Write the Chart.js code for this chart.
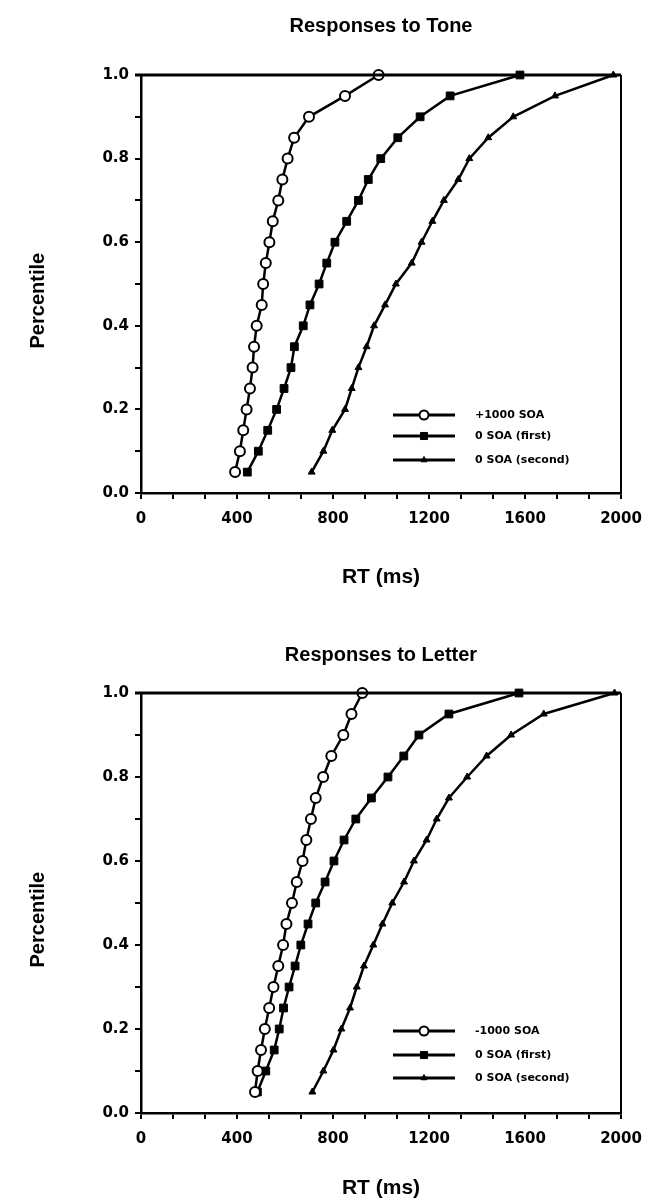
<!DOCTYPE html>
<html>
<head>
<meta charset="utf-8">
<script src="https://cdn.jsdelivr.net/npm/chart.js@4.4.1/dist/chart.umd.min.js"></script>
<style>
    html, body { margin: 0; padding: 0; background: #ffffff; }
    .panel { position: relative; width: 648px; }
    #tonePanel { height: 600px; }
    #letterPanel { height: 603px; }
</style>
</head>
<body>
<div class="panel" id="tonePanel"><canvas id="toneChart"></canvas></div>
<div class="panel" id="letterPanel"><canvas id="letterChart"></canvas></div>
<script>
// Percentile levels, shared by every curve (y values)
const percentiles = [0.05, 0.10, 0.15, 0.20, 0.25, 0.30, 0.35, 0.40, 0.45, 0.50,
                     0.55, 0.60, 0.65, 0.70, 0.75, 0.80, 0.85, 0.90, 0.95, 1.00];

// Responses to Tone - RT (ms) at each percentile
const toneLabels = ['+1000 SOA', '0 SOA (first)', '0 SOA (second)'];
const tonePlus1000 = [392, 412, 426, 440, 454, 465, 471, 482, 503, 509,
                      520, 535, 549, 572, 589, 611, 638, 700, 850, 990];
const toneFirst = [443, 489, 528, 565, 596, 625, 639, 676, 704, 742,
                   774, 808, 857, 906, 947, 999, 1070, 1163, 1288, 1579];
const toneSecond = [711, 760, 797, 850, 878, 906, 940, 971, 1017, 1062,
                    1128, 1169, 1214, 1262, 1322, 1368, 1447, 1551, 1725, 1968];

// Responses to Letter - RT (ms) at each percentile
const letterLabels = ['-1000 SOA', '0 SOA (first)', '0 SOA (second)'];
const letterMinus1000 = [475, 486, 500, 516, 534, 552, 572, 592, 606, 629,
                         649, 673, 689, 708, 728, 759, 793, 843, 877, 922];
const letterFirst = [485, 520, 555, 576, 594, 617, 642, 666, 696, 728,
                     767, 804, 846, 895, 960, 1029, 1095, 1158, 1283, 1575];
const letterSecond = [714, 760, 802, 835, 871, 899, 929, 968, 1006, 1047,
                      1096, 1137, 1190, 1232, 1283, 1359, 1440, 1542, 1678, 1973];

// Labelled ticks
const xTickLabels = [0, 400, 800, 1200, 1600, 2000];
const yTickLabels = [0.0, 0.2, 0.4, 0.6, 0.8, 1.0];

const FONT = "'Liberation Sans', Arial, sans-serif";
const TICK_FONT = "'DejaVu Sans', sans-serif";

// marker styles for the three curves
const markers = [
    { pointStyle: 'circle', pointRadius: 5, pointBackgroundColor: '#ffffff', pointBorderWidth: 2 },
    { pointStyle: 'rect', pointRadius: 5.5, pointBackgroundColor: '#000000', pointBorderWidth: 1 },
    { pointStyle: 'triangle', pointRadius: 4, pointBackgroundColor: '#000000', pointBorderWidth: 1 }
];

function isNear(v, list) {
    return list.some(t => Math.abs(t - v) < 1e-6);
}

function makeDatasets(labels, seriesList) {
    return seriesList.map((series, i) => Object.assign({
        label: labels[i],
        data: series.map((rt, j) => ({ x: rt, y: percentiles[j] })),
        borderColor: '#000000',
        borderWidth: 2.5,
        pointBorderColor: '#000000',
        pointHoverRadius: 5,
        tension: 0,
        clip: 10
    }, markers[i]));
}

// legend drawn inside the plot, lower right
const insideLegend = {
    id: 'insideLegend',
    afterDatasetsDraw(chart, args, opts) {
        const { ctx, chartArea } = chart;
        ctx.save();
        chart.data.datasets.forEach((ds, i) => {
            const y = chartArea.bottom - opts.rows[i];
            const x0 = chartArea.left + opts.lineStart;
            const x1 = chartArea.left + opts.lineEnd;
            ctx.strokeStyle = '#000000';
            ctx.lineWidth = 3;
            ctx.beginPath();
            ctx.moveTo(x0, y);
            ctx.lineTo(x1, y);
            ctx.stroke();
            ctx.fillStyle = ds.pointBackgroundColor;
            ctx.strokeStyle = '#000000';
            ctx.lineWidth = ds.pointBorderWidth;
            Chart.helpers.drawPoint(ctx, {
                pointStyle: ds.pointStyle,
                radius: ds.pointRadius - 0.5,
                rotation: 0,
                borderWidth: ds.pointBorderWidth
            }, (x0 + x1) / 2, y);
            ctx.fillStyle = '#000000';
            ctx.font = opts.font;
            ctx.textAlign = 'left';
            ctx.textBaseline = 'middle';
            ctx.fillText(ds.label, chartArea.left + opts.textStart, y);
        });
        ctx.restore();
    }
};

// top and right edges of the box
const plotFrame = {
    id: 'plotFrame',
    afterDraw(chart) {
        const { ctx, chartArea } = chart;
        ctx.save();
        ctx.strokeStyle = '#000000';
        ctx.lineWidth = 3;
        ctx.beginPath();
        ctx.moveTo(chartArea.left - 6, chartArea.top);
        ctx.lineTo(chartArea.right, chartArea.top);
        ctx.stroke();
        ctx.lineWidth = 2;
        ctx.beginPath();
        ctx.moveTo(chartArea.right, chartArea.top);
        ctx.lineTo(chartArea.right, chartArea.bottom);
        ctx.stroke();
        ctx.restore();
    }
};

function makeChart(canvasId, titleText, datasets, cfg) {
    return new Chart(document.getElementById(canvasId), {
        type: 'line',
        data: { datasets: datasets },
        plugins: [plotFrame, insideLegend],
        options: {
            responsive: true,
            maintainAspectRatio: false,
            animation: false,
            devicePixelRatio: 1,
            layout: { padding: { left: 0, right: 27, top: 0, bottom: 0 } },
            plugins: {
                legend: { display: false },
                tooltip: { enabled: false },
                title: {
                    display: true,
                    text: titleText,
                    fullSize: false,
                    color: '#000000',
                    font: { family: FONT, size: 20, weight: 'bold' },
                    padding: { top: cfg.titleTop, bottom: cfg.titleBottom }
                },
                insideLegend: {
                    rows: cfg.legendRows,
                    lineStart: 252,
                    lineEnd: 314,
                    textStart: 334,
                    font: "bold 11px " + TICK_FONT
                }
            },
            scales: {
                x: {
                    type: 'linear',
                    position: 'bottom',
                    min: 0,
                    max: 2000,
                    afterFit: (scale) => {
                        scale.height = cfg.xAxisHeight;
                        scale.paddingLeft = 0;
                        scale.paddingRight = 0;
                    },
                    afterBuildTicks: (scale) => {
                        const t = [];
                        for (let i = 0; i <= 15; i++) t.push({ value: i * 400 / 3 });
                        scale.ticks = t;
                    },
                    ticks: {
                        autoSkip: false,
                        maxRotation: 0,
                        padding: 11,
                        color: '#000000',
                        font: { family: TICK_FONT, size: 15, weight: 'bold' },
                        callback: (v) => isNear(v, xTickLabels) ? String(Math.round(v)) : ''
                    },
                    grid: {
                        drawOnChartArea: false,
                        drawTicks: true,
                        tickLength: 6,
                        color: '#000000',
                        lineWidth: 2
                    },
                    border: { display: true, color: '#000000', width: 2.5 },
                    title: {
                        display: true,
                        text: 'RT (ms)',
                        color: '#000000',
                        font: { family: FONT, size: 21, weight: 'bold' },
                        padding: { top: 0, bottom: cfg.xTitleBottom }
                    }
                },
                y: {
                    type: 'linear',
                    min: 0,
                    max: 1,
                    afterFit: (scale) => {
                        scale.width = 141;
                        scale.paddingTop = 0;
                        scale.paddingBottom = 0;
                    },
                    afterBuildTicks: (scale) => {
                        const t = [];
                        for (let i = 0; i <= 10; i++) t.push({ value: i / 10 });
                        scale.ticks = t;
                    },
                    ticks: {
                        autoSkip: false,
                        padding: 6,
                        color: '#000000',
                        font: { family: TICK_FONT, size: 15, weight: 'bold' },
                        callback: (v) => isNear(v, yTickLabels) ? v.toFixed(1) : ''
                    },
                    grid: {
                        drawOnChartArea: false,
                        drawTicks: true,
                        tickLength: 6,
                        color: '#000000',
                        lineWidth: 2
                    },
                    border: { display: true, color: '#000000', width: 2.5 },
                    title: {
                        display: true,
                        // trailing spaces push the centred label a little lower, as in the original
                        text: 'Percentile      ',
                        color: '#000000',
                        font: { family: FONT, size: 20, weight: 'bold' },
                        padding: { top: 26, bottom: 0 }
                    }
                }
            }
        }
    });
}

makeChart('toneChart', 'Responses to Tone',
    makeDatasets(toneLabels, [tonePlus1000, toneFirst, toneSecond]),
    { titleTop: 14, titleBottom: 37, xAxisHeight: 107, xTitleBottom: 10, legendRows: [78, 57, 33] });

makeChart('letterChart', 'Responses to Letter',
    makeDatasets(letterLabels, [letterMinus1000, letterFirst, letterSecond]),
    { titleTop: 43, titleBottom: 26, xAxisHeight: 90, xTitleBottom: 2, legendRows: [82, 58, 35] });
</script>
</body>
</html>
